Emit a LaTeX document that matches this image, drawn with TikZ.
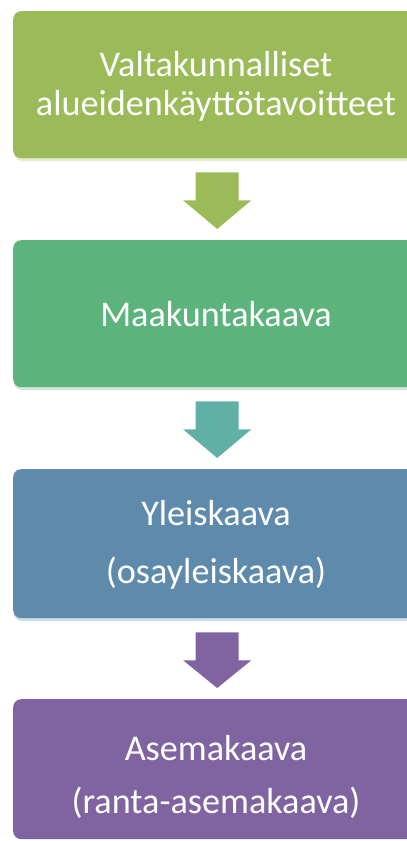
\documentclass[tikz,border=0pt]{standalone}
\usepackage{fontspec}
\setmainfont{Carlito}
\usetikzlibrary{calc}
\definecolor{cA}{RGB}{155,187,89}
\definecolor{cB}{RGB}{92,179,124}
\definecolor{cT}{RGB}{97,176,166}
\definecolor{cC}{RGB}{94,139,172}
\definecolor{cD}{RGB}{128,100,162}
\tikzset{
  box/.style={rounded corners=8pt, minimum width=408pt, inner sep=0pt, anchor=north west},
  lbl/.style={text=white, font=\fontsize{36.2}{40}\selectfont, anchor=base, inner sep=0pt},
}
\newcommand{\blockarrow}[3]{% from node, to node, colour
  \fill[#3] ($(#1.south)+(-21.5pt,-14pt)$) -- ($(#1.south)+(21.5pt,-14pt)$)
    -- ($(#1.south)+(21.5pt,-42pt)$) -- ($(#1.south)+(34pt,-42pt)$)
    -- ($(#2.north)+(0pt,11pt)$) -- ($(#1.south)+(-34pt,-42pt)$)
    -- ($(#1.south)+(-21.5pt,-42pt)$) -- cycle;}
\begin{document}
\begin{tikzpicture}[x=1pt,y=1pt]
\useasboundingbox (0,0) rectangle (407,-841);
% shadows
\fill[cA!30, rounded corners=8pt] (14,-14) rectangle (422,-161);
\fill[cB!30, rounded corners=8pt] (14,-243) rectangle (422,-390);
\fill[cC!30, rounded corners=8pt] (14,-472) rectangle (422,-621);
% boxes
\node[box, fill=cA, minimum height=147pt] (b1) at (13,-11) {};
\node[box, fill=cB, minimum height=147pt] (b2) at (13,-240) {};
\node[box, fill=cC, minimum height=149pt] (b3) at (13,-469) {};
\node[box, fill=cD, minimum height=140pt] (b4) at (13,-699) {};
% arrows
\blockarrow{b1}{b2}{cA}
\blockarrow{b2}{b3}{cT}
\blockarrow{b3}{b4}{cD}
% labels
\node[lbl] (t1a) at (216,-76) {Valtakunnalliset};
\node[lbl] (t1b) at (216,-115) {alueidenkäyttötavoitteet};
\node[lbl] (t2) at (216,-326) {Maakuntakaava};
\node[lbl] (t3a) at (216,-525) {Yleiskaava};
\node[lbl] (t3b) at (216,-583) {(osayleiskaava)};
\node[lbl] (t4a) at (216,-760) {Asemakaava};
\node[lbl] (t4b) at (216,-813) {(ranta-asemakaava)};
\end{tikzpicture}
\end{document}
